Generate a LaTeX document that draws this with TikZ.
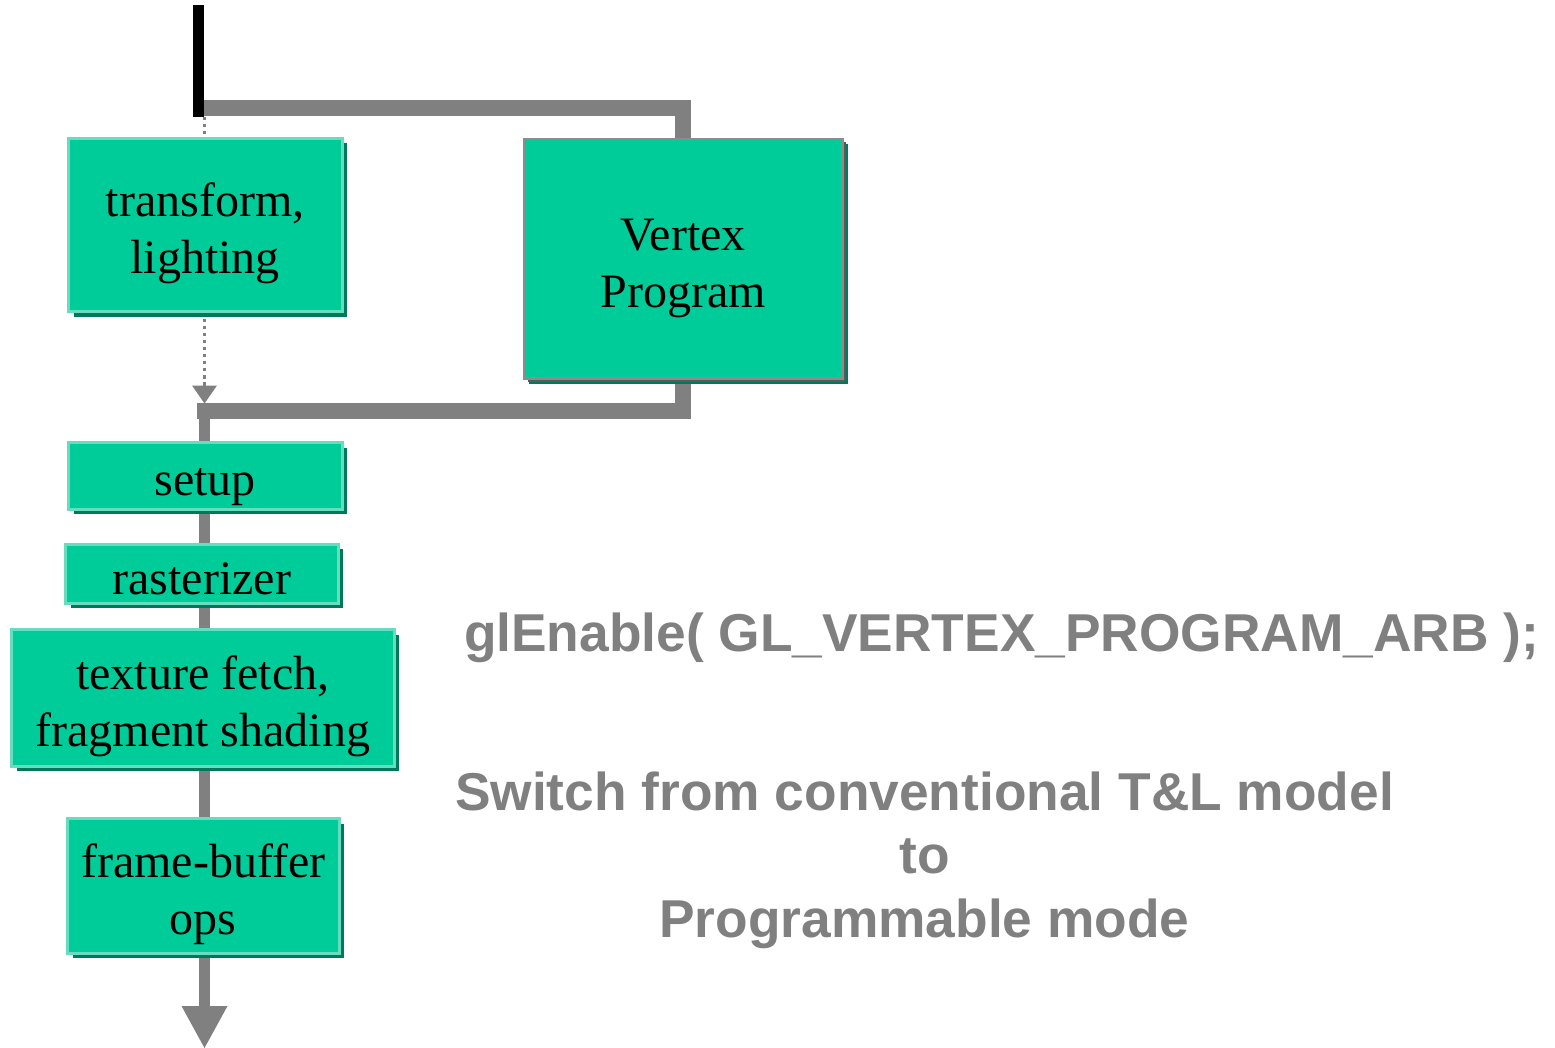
\documentclass[tikz,border=0pt]{standalone}
\usepackage{fontspec}
\setmainfont{Liberation Serif}
\newfontfamily\labelsans{Liberation Sans}
\usetikzlibrary{arrows.meta,shadows,backgrounds}

\definecolor{boxfill}{HTML}{00CC99}
\definecolor{boxedge}{HTML}{66DDBF}
\definecolor{boxshade}{HTML}{00785A}
\definecolor{wire}{HTML}{808080}
\definecolor{vpedge}{HTML}{8C8C8C}
\definecolor{vpshade}{HTML}{5A5A5A}

% struts that fix the first baseline and the last descent of a box label
\newcommand{\topstrut}{\rule{0pt}{50pt}}
\newcommand{\botstrut}{\rule[-9pt]{0pt}{9pt}}

\begin{document}
\begin{tikzpicture}[x=1pt,y=-1pt,
  stage/.style={rectangle, fill=boxfill, draw=boxedge, line width=3pt,
    inner sep=0pt, outer sep=0pt, align=center,
    font=\fontsize{48}{57}\selectfont,
    drop shadow={shadow xshift=5pt, shadow yshift=-5pt, fill=boxshade, opacity=1}},
  progbox/.style={stage, draw=vpedge, line width=2.5pt,
    drop shadow={shadow xshift=3.5pt, shadow yshift=-3.5pt, fill=vpshade, opacity=1}},
  bus/.style={draw=wire, line width=16pt, line join=miter, line cap=butt},
  spine/.style={draw=wire, line width=11pt, line cap=butt},
  feed/.style={draw=black, line width=11pt, line cap=butt},
  dots/.style={draw=wire, line width=3.2pt, dash pattern=on 3.5pt off 3.5pt},
  caption/.style={inner sep=0pt, text=wire,
    font=\labelsans\bfseries\fontsize{53.3}{63.5}\selectfont}
]
\useasboundingbox (0,0) rectangle (1555,1048);

% pipeline stages
\node[stage, minimum width=273.5pt, minimum height=173.5pt] (tl) at (205.25,225.25)
  {\topstrut transform,\\lighting\botstrut};
\node[stage, minimum width=273.5pt, minimum height=66.5pt] (setup) at (205.25,475.75)
  {\topstrut setup\botstrut};
\node[stage, minimum width=272.5pt, minimum height=54.5pt] (raster) at (201.75,573.75)
  {\topstrut rasterizer\botstrut};
\node[stage, minimum width=382.5pt, minimum height=136.5pt] (frag) at (202.75,697.75)
  {\topstrut texture fetch,\\fragment shading\botstrut};
\node[stage, minimum width=271.5pt, minimum height=134.5pt] (fb) at (203.25,885.75)
  {\topstrut frame-buffer\\ops\botstrut};
\node[progbox, minimum width=318.5pt, minimum height=239.5pt] (vp) at (683.25,258.75)
  {\topstrut Vertex\\Program\botstrut};

% fixed points of the wiring
\coordinate (src) at (198.5,5);
\coordinate (tap) at (198.5,117);
\coordinate (fork) at (198.5,108);
\coordinate (col) at (204.5,0);
\coordinate (join) at (204.5,411);
\coordinate (busend) at (197,411);
\coordinate (merge) at (204.5,403.5);
\coordinate (out) at (204.5,1048);

\begin{scope}[on background layer]
  % bypass through the vertex program
  \draw[bus] (fork) -| (vp.north);
  \draw[bus] (vp.south) |- (busend);
  % incoming vertex stream
  \draw[feed] (src) -- (tap);
  % conventional path (disabled)
  \draw[dots] (col |- tap) -- (col |- tl.north);
  \draw[dots, -{Triangle[width=25pt,length=18pt,line width=0pt]}]
    (col |- tl.south) -- (merge);
  % rest of the pipeline
  \draw[spine] (join) -- (join |- setup.north);
  \draw[spine] (join |- setup.south) -- (join |- raster.north);
  \draw[spine] (join |- raster.south) -- (join |- frag.north);
  \draw[spine] (join |- frag.south) -- (join |- fb.north);
  \draw[spine, -{Triangle[width=46pt,length=42pt,line width=0pt]}]
    (join |- fb.south) -- (out);
\end{scope}

% captions
\node[caption, anchor=base] (call) at (1001.5,651)
  {glEnable( GL\_VERTEX\_PROGRAM\_ARB );};
\node[caption, anchor=north, align=center] (note) at (924.5,770)
  {\rule{0pt}{40pt}Switch from conventional T\&L model\\to\\Programmable mode};
\end{tikzpicture}
\end{document}
